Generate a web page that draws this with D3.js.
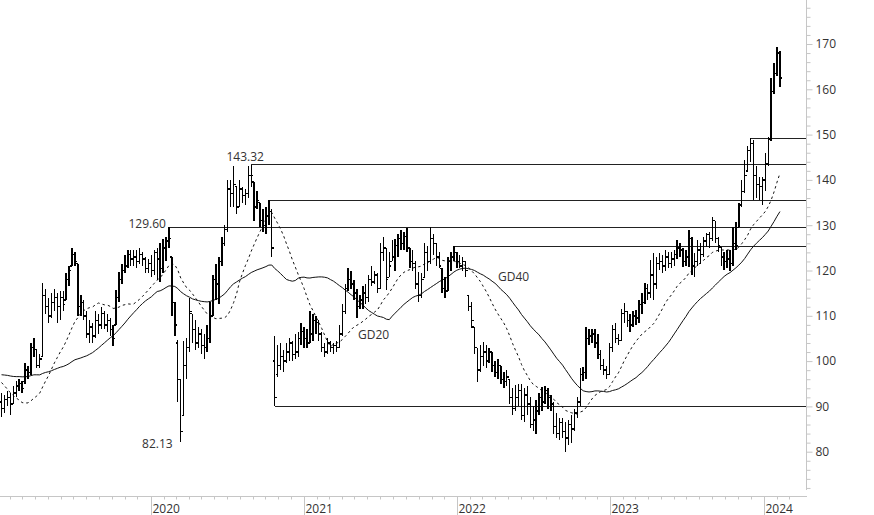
<!DOCTYPE html>
<html><head><meta charset="utf-8">
<script src="https://cdn.jsdelivr.net/npm/d3@7"></script>
<style>html,body{margin:0;padding:0;background:#fff;}svg{display:block;font-family:"Open Sans",sans-serif;}</style>
</head><body><svg id="chart" width="874" height="515"></svg>
<script>
// ---- data (weekly bars) ----
const firstWeek = "2019-01-11";
// closes of the 39 weeks before the first visible bar (needed for the moving averages)
const priorCloses = [94,95,96,97,96,95,96,97,96,95,95,99,101,102,103,104,104,103,102,104,106,107,106,105,106,104,105,100,97,94,91,89,88,87,86,86,85,86,88];
const opens = [
91,89.5,91.5,92,90.5,93,94.5,95,95.5,98,97.5,103,102.5,99,101,
114.5,112,110,113,114,112,114,113.5,118,121,123.5,121.5,
112,113,110,106,107.5,105.5,109,108,110.5,108,109,107,
108,114,118,120,121,123.5,122.5,123,122,123.5,122.5,120.5,121.5,120,124,122.5,120.5,125,126.5,
123,113,104,96,88,99,103,110.5,107,104,106,103.5,103,105,110,118,117,122,126,129,
138,137,138.5,134,138,136.5,137,141,139.5,134,135,131,130,132,133,100,
97,99,101,100,102,104,101.5,102,105,106.5,105,104,106,109,108.5,106,103,102,104,103,103.5,103,106,111,116,
118,117,115,112,113.5,115,114,118,117.5,119,116,124,125,118.5,122,123,125.5,127,126,127.5,125,122,121.5,117,114.5,118.5,124,122,127,126,123,120.5,116,115.5,122,123,124,122,121,122,
114.5,112,107.5,103,98,101,102,100,102,99,97.5,99,96,95.5,96,92,89.5,92,93.5,88,92.5,90.5,86,87,89,92,91,93.5,92,90.5,85.5,84,86.5,84.5,83,86,85,
88.5,91,97,97.5,105,105.5,106,104,101.5,99,98,97,103,107,105,104.5,110.5,111,109,108,110,109.5,112.5,113,116,115,
119,117,121.5,122,121,123,121.5,122.5,123.5,125,124.5,122,123,127,121,122,124.5,123.5,126.5,128,127,131,127,125.2,123,122,122.5,121.5,126,129.5,134.5,137.5,142,146.5,148,141,139,138.5,140,143.5,149,159.5,163.5,168];
const highs = [
93,92.5,93.5,93,94.5,95.5,96,95.5,99.5,99,104,105,102.5,101.5,117.2,
116,114,115,116,115,115.5,115.5,119.5,121,125,124,121.5,
114.5,113.5,111,109,108.5,111,110.5,112,111,110.5,109.5,108,
115.7,119.7,121.5,123.4,124.5,124.5,124.5,124.5,125,124,123,122.5,123.5,124.5,125,126,127,127.5,129.6,
123,113,104.7,96,104.5,105,114,110.5,109,107.5,107,106,108,113,119,121.5,123,127.5,130,140,
140,143,138.5,140,138.5,138,143,143.32,139.5,137.5,135,133.5,134,135.5,133.5,105.5,
103.5,104,102.5,104,105,104.5,106,106.5,108.5,107.5,107,111,110.5,110,109,106.5,104,105,104.5,104,104.5,108,112.5,117,120.5,
120,118,116,114.5,116.5,117,119,121,120,119.5,126,127.5,125,124,126.8,127,128,129,128.5,129.4,125,124.5,122,119.7,119.5,126,125.5,129.7,128,126,124,120.5,118.5,123,124,125.3,124,123.5,123,122,
114.5,113,107.5,103,103.5,104.2,103.5,103,102,100,100.5,99,97.5,98,96,94,94.7,95,95,94,94.5,92,90,91.5,93,94.3,94.5,94,92.5,91,88.5,87.5,87.5,86.5,87,88,89.5,
92,98.5,98.7,107.5,107,107,107,106,102.5,100.5,99,104,108,108.4,106,111.5,112.8,111,110.5,111,111.3,113.5,115,117.2,117,122.3,
123.9,123,123.9,123.5,124.6,124,124,124.5,126.7,126,125,124.5,129,127.5,123.9,126.7,126,127.5,128.3,128.5,131.8,131,127.5,125.2,124,124.5,124.5,129.6,130.6,135,140,144.4,147.5,149.2,148.8,143,140.6,140.6,145.9,149.5,162.5,165.8,169.3,168.5];
const lows = [
87.7,88.5,90,88,90.5,92,93.5,93,95,96,97,101,98.5,98.5,101,
110.5,108.5,109.5,111,108.5,109,111,113.5,116.5,121,121,110,
110,109,105,104,104,105,106,107,107,106.5,105.5,103.3,
108,113,117,119.5,120.5,121,121,120.5,121.5,121,119.5,119.5,118.5,119,118,117.5,119.5,122,125,
110,105.5,91,82.13,88,96,102,104,102.5,103,101.5,100.5,102,104,110,113.5,112.5,121,125.5,128.5,
134,134,132.5,134,135,134.5,136,138.5,131,133.5,129.5,128.5,128,130,123,90,
96.5,98,97.5,99.5,100,100,100.5,101,103.5,103,103,104,104.5,106,104.5,102,100.8,101.5,102,101.5,102,103,105.5,110.5,115.5,
116,113.5,109.5,111.5,111.5,112.5,113,116.5,117,115,116,122,115.7,118.5,122,120,123,124.5,124.5,124,120.5,120,116,113,114,118.5,120,121.5,123.5,121,120.5,115,114,115.5,120,122,120.5,120.5,120,118.5,
111,107.3,101.5,95.4,97.5,99,98.5,99.5,97.5,96.5,96,95,94,94.5,90.5,88,89,90,87,86.5,88,85.3,84.5,84,88,89,90.5,89.5,89,84,83,82.5,83,80,81.5,82,84.5,
87.5,90,95.5,96,103.5,104,103,100.5,98,97,96,97,102,104,103.5,104.5,108.5,107.5,106.5,107.5,108,108.5,110.5,112.5,113.5,114,
113.5,116,120.1,119.5,120,120.5,120.5,121,122.5,123,120.8,121,120.8,119,118.6,121,121.5,123,125.2,125,126.5,126,124,121,120.1,120.5,120,121,124.5,129.5,134,137,142,144,135.5,136,135.5,134.5,137.5,143,148.5,159,163,160.5];
const closes = [
89.5,91.5,92,90.5,93,94.5,95,94,98,97.5,103,102.5,99,100.5,114.5,
112,110,113,114,112,114,112.5,118,120,123.5,122,112,
113,110,106,107.5,105.5,109,108,110.5,108,109,107,105,
114,118,120,121,123.5,122.5,123,122,123.5,122.5,120.5,121.5,120,124,122.5,120.5,125,126.5,127,
113,108,96,84.5,99,103,111,107,104,106,103.5,103,105,110,118,117,122,126,129,138,
137,139,134,138,136.5,137,141,141,134,135.5,131,130,132,133,125,92,
99,101,100,102,104,101.5,102,105,106.5,105,104,106,109,108.5,106,103,102,104,103,103.5,103,106,111,116,118,
117,115,112,113.5,115,114,118,117.5,119,116,124,125,118,121,123,125.5,127,126,127.5,125,122,121.5,117,114.5,118,124,122,127,126,123,121,116,115.5,122,123,124,122,121,122,120,
112,109,103,98,101,102,100,102,99,97.5,99,96,95.5,96.5,92,89.5,92,93.5,88,92.5,90.5,86,87,89,92,91,93.5,92,90.5,85.5,84,86.5,84.5,83,86,85,88.5,
91,97,97.5,105,105.5,106,104,101.5,99,98,97,103,107,105,104.5,110.5,111,109,108,110,109.5,112.5,113,116,115,119,
117,121.5,122,121,123,121.5,122.5,123.5,125,124.5,122,123,127,121,122,124.5,123.5,126.5,128,127,131,127,125.5,123,122,122.5,121.5,126,125.5,134.5,137.5,141,146.5,148,141,139,138.5,140,143.5,149,159.5,163.5,168,162.5];

// horizontal support / resistance levels: price and the bar they start from
const levelValues = [129.6, 143.32, 135.5, 90.0, 125.3, 149.2];
const levelStartBars = [57, 85, 91, 93, 154, 255];
// price annotations
const noteTexts = ["129.60", "143.32", "82.13"];
const noteBars = [57, 85, 61];
const noteValues = [129.6, 143.32, 82.13];
// moving averages
const maNames = ["GD20", "GD40"];
const maPeriods = [20, 40];
// axes
const yTickLabels = [80, 90, 100, 110, 120, 130, 140, 150, 160, 170];
const xTickLabels = ["2020", "2021", "2022", "2023", "2024"];

// ---- drawing ----
const svg = d3.select("#chart");
const parse = d3.timeParse("%Y-%m-%d");
const d0 = parse(firstWeek);
const dates = closes.map((_, i) => d3.timeDay.offset(d0, 7 * i));

const x = d3.scaleTime().domain([new Date(2020, 0, 1), new Date(2024, 0, 1)]).range([150.5, 763.6]);
const y = d3.scaleLinear().domain([80, 170]).range([451.7, 44]);
const axisX = 806, axisY = 496;
const textColor = "#333", gridColor = "#c6c6c6";

// right axis
svg.append("line").attr("x1", axisX + 0.5).attr("x2", axisX + 0.5).attr("y1", 0).attr("y2", 490)
  .attr("stroke", gridColor);
const minor = d3.range(72, 179, 2);
const yAx = svg.append("g").attr("transform", `translate(${axisX + 0.5},0)`)
  .call(d3.axisRight(y).tickValues(minor).tickSize(4).tickPadding(5)
    .tickFormat(d => yTickLabels.includes(d) ? d : ""));
yAx.select(".domain").remove();
yAx.selectAll(".tick line").attr("stroke", gridColor).attr("x2", d => yTickLabels.includes(d) ? 6 : 4);
yAx.selectAll(".tick text").attr("fill", textColor).attr("font-size", 12)
  .attr("font-family", '"Open Sans",sans-serif').attr("x", 9);

// bottom axis
svg.append("line").attr("x1", 0).attr("x2", axisX + 1).attr("y1", axisY + 0.5).attr("y2", axisY + 0.5)
  .attr("stroke", gridColor);
const months = d3.timeMonth.range(new Date(2019, 1, 1), new Date(2024, 3, 1));
const xAx = svg.append("g").attr("transform", `translate(0,${axisY + 0.5})`)
  .call(d3.axisBottom(x).tickValues(months).tickSize(3).tickPadding(0)
    .tickFormat(d => d.getMonth() === 0 ? xTickLabels[d.getFullYear() - 2020] : ""));
xAx.select(".domain").remove();
xAx.selectAll(".tick line").attr("stroke", gridColor).attr("y2", d => d.getMonth() === 0 ? 19 : 3);
xAx.selectAll(".tick").attr("transform", d => `translate(${Math.round(x(d)) + 0.5},0)`);
xAx.selectAll(".tick text").attr("fill", textColor).attr("font-size", 12)
  .attr("font-family", '"Open Sans",sans-serif').attr("text-anchor", "start")
  .attr("x", 1).attr("y", 16).attr("dy", 0);

// level lines
const lv = svg.append("g").attr("stroke", "#222").attr("stroke-width", 1).attr("shape-rendering", "crispEdges");
levelValues.forEach((v, k) => {
  lv.append("line").attr("x1", x(dates[levelStartBars[k]])).attr("x2", axisX)
    .attr("y1", y(v)).attr("y2", y(v));
});

// moving averages
const all = priorCloses.concat(closes);
const off = priorCloses.length;
maPeriods.forEach((p, k) => {
  const vals = closes.map((_, i) => d3.mean(all.slice(i + off - p + 1, i + off + 1)));
  svg.append("path").datum(vals)
    .attr("fill", "none").attr("stroke", "#111").attr("stroke-width", 1)
    .attr("stroke-dasharray", p === 20 ? "2.5,3" : null)
    .attr("d", d3.line().x((d, i) => x(dates[i])).y(d => y(d)));
});

// OHLC bars
svg.append("g").attr("stroke", "#000").attr("stroke-width", 1.4).attr("fill", "none")
  .attr("shape-rendering", "crispEdges")
  .selectAll("path").data(closes).join("path")
  .attr("d", (c, i) => {
    const xi = x(dates[i]);
    return `M${xi},${y(highs[i])}V${y(lows[i])}M${xi - 2},${y(opens[i])}H${xi}M${xi},${y(c)}H${xi + 2}`;
  });

// annotations
const notes = svg.append("g").attr("fill", textColor).attr("font-size", 12);
notes.append("text").attr("x", x(dates[noteBars[0]]) - 3).attr("y", y(noteValues[0]) + 1)
  .attr("text-anchor", "end").text(noteTexts[0]);
notes.append("text").attr("x", x(dates[noteBars[1]]) - 6).attr("y", y(noteValues[1]) - 4)
  .attr("text-anchor", "middle").text(noteTexts[1]);
notes.append("text").attr("x", x(dates[noteBars[2]]) - 8).attr("y", y(noteValues[2]) + 6)
  .attr("text-anchor", "end").text(noteTexts[2]);
notes.append("text").attr("x", x(dates[121]) + 1).attr("y", y(104.9)).text(maNames[0]);
notes.append("text").attr("x", x(dates[168]) + 3).attr("y", y(117.7)).text(maNames[1]);
</script></body></html>
